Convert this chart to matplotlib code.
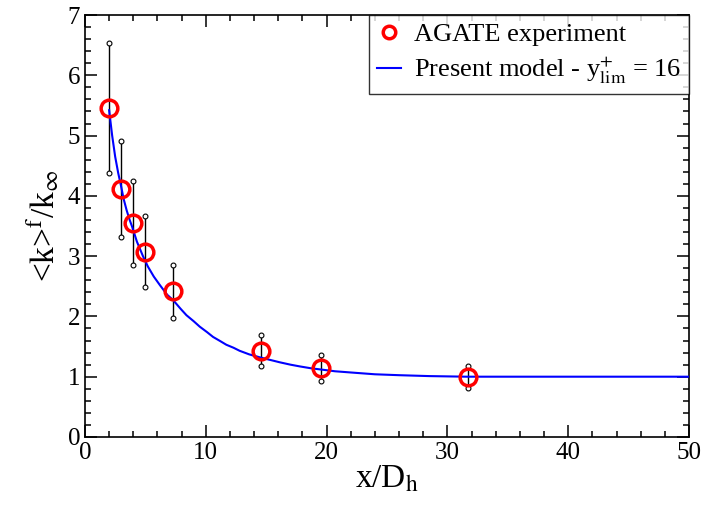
import matplotlib
matplotlib.use('Agg')
import matplotlib.pyplot as plt
from matplotlib.ticker import MultipleLocator

plt.rcParams['font.family'] = ['Liberation Serif', 'DejaVu Serif']
plt.rcParams['mathtext.fontset'] = 'stix'

# AGATE experiment (x/Dh, <k>f/kinf, lower and upper bounds)
exp_x = [2.0, 3.0, 4.0, 5.0, 7.3, 14.6, 19.5, 31.7]
exp_y = [5.46, 4.11, 3.55, 3.07, 2.42, 1.43, 1.14, 0.99]
exp_lo = [4.38, 3.32, 2.86, 2.48, 1.97, 1.17, 0.93, 0.81]
exp_hi = [6.53, 4.91, 4.25, 3.67, 2.86, 1.69, 1.36, 1.17]

# Present model, y+lim = 16
mod_x = [2.0, 2.25, 2.5, 2.75, 3.0, 3.2, 3.45, 3.7, 3.9, 4.3, 4.8, 5.2, 5.7,
         6.2, 6.8, 7.3, 7.9, 8.4, 9.0, 9.5, 10.1, 10.6, 11.2, 11.7, 12.3,
         12.8, 13.6, 14.5, 15.3, 16.1, 17.0, 17.8, 18.7, 19.5, 20.7, 22.0,
         24.0, 26.0, 28.5, 31.6, 35.0, 40.0, 45.0, 50.0]
mod_y = [5.42, 5.0, 4.65, 4.38, 4.15, 3.95, 3.76, 3.6, 3.49, 3.24, 3.0, 2.83,
         2.66, 2.52, 2.36, 2.27, 2.13, 2.02, 1.92, 1.83, 1.74, 1.66, 1.59,
         1.53, 1.48, 1.43, 1.37, 1.32, 1.28, 1.24, 1.2, 1.17, 1.14, 1.12,
         1.09, 1.07, 1.04, 1.025, 1.01, 1.0, 1.0, 1.0, 1.0, 1.0]

fig = plt.figure(figsize=(7.04, 5.09), dpi=100)
ax = fig.add_axes([0.1207, 0.1415, 0.858, 0.829])

# barras de error
ax.vlines(exp_x, exp_lo, exp_hi, colors='black', linewidth=1.0, zorder=2)
ax.plot(exp_x, exp_lo, 'o', ms=3.5, mfc='white', mec='black', mew=0.8, zorder=3)
ax.plot(exp_x, exp_hi, 'o', ms=3.5, mfc='white', mec='black', mew=0.8, zorder=3)

ax.plot(mod_x, mod_y, color='blue', linewidth=1.5, zorder=4,
        label=r'Present model - y$^{+}_{\mathrm{lim}}$ = 16')
ax.plot(exp_x, exp_y, 'o', ms=12, mfc='none', mec='red', mew=2.5, zorder=5,
        label='AGATE experiment')

ax.set_xlim(0, 50)
ax.set_ylim(0, 7)
ax.xaxis.set_major_locator(MultipleLocator(10))
ax.xaxis.set_minor_locator(MultipleLocator(2))
ax.yaxis.set_major_locator(MultipleLocator(1))
ax.yaxis.set_minor_locator(MultipleLocator(0.2))
ax.tick_params(which='both', direction='in', top=True, right=True, labelsize=18)
ax.tick_params(which='major', length=8.5, width=1.1)
ax.tick_params(which='minor', length=4.5, width=1.1)
for s in ax.spines.values():
    s.set_linewidth(1.2)

ax.set_xlabel(r'x/D$_{\mathrm{h}}$', fontsize=24, labelpad=0)
ax.set_ylabel(r'<k>$^{\mathrm{f}}$/k$_{\infty}$', fontsize=24, labelpad=4)

h, l = ax.get_legend_handles_labels()
leg = ax.legend(h[::-1], l[::-1], loc='upper right', fontsize=19, frameon=True,
                fancybox=False, edgecolor='black', borderaxespad=0.0,
                handlelength=0.9, handletextpad=0.5, borderpad=0.3,
                labelspacing=0.3)
leg.get_frame().set_linewidth(1.0)
leg.legend_handles[0].set_markersize(9)

fig.savefig('out.png', dpi=100)
